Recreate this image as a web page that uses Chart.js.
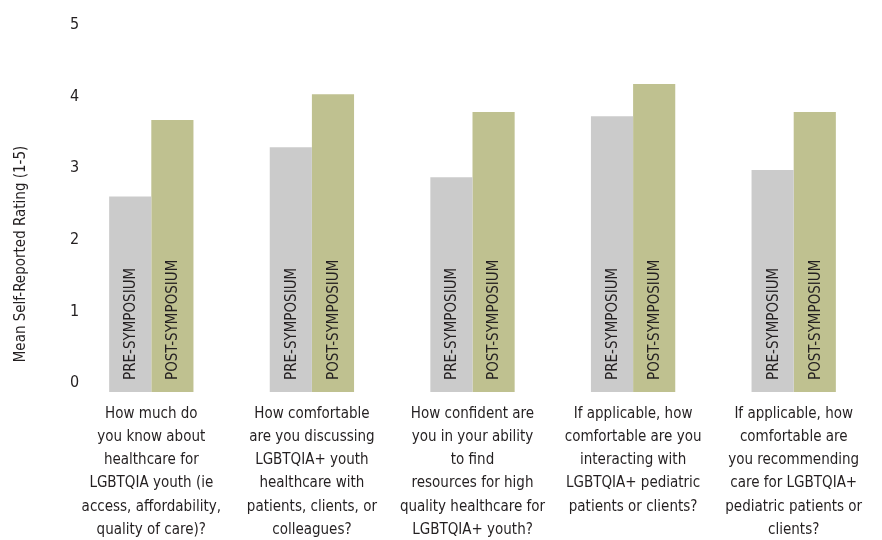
<!DOCTYPE html>
<html>
<head>
<meta charset="utf-8">
<script src="https://cdn.jsdelivr.net/npm/chart.js@4"></script>
<style>
  html, body { margin: 0; padding: 0; background: #fff; }
  #wrap { width: 882px; height: 540px; }
</style>
</head>
<body>
<div id="wrap"><canvas id="ratingChart" width="882" height="540"></canvas></div>
<script>
const questions = [
    ['How much do', 'you know about', 'healthcare for', 'LGBTQIA youth (ie', 'access, affordability,', 'quality of care)?'],
    ['How comfortable', 'are you discussing', 'LGBTQIA+ youth', 'healthcare with', 'patients, clients, or', 'colleagues?'],
    ['How confident are', 'you in your ability', 'to find', 'resources for high', 'quality healthcare for', 'LGBTQIA+ youth?'],
    ['If applicable, how', 'comfortable are you', 'interacting with', 'LGBTQIA+ pediatric', 'patients or clients?'],
    ['If applicable, how', 'comfortable are', 'you recommending', 'care for LGBTQIA+', 'pediatric patients or', 'clients?']
];
const preSymposium = [2.73, 3.42, 3.00, 3.85, 3.10];
const postSymposium = [3.80, 4.16, 3.91, 4.30, 3.91];
const yTicks = [0, 1, 2, 3, 4, 5];

const narrow = "'Liberation Sans Narrow', 'DejaVu Sans Condensed', sans-serif";
const ink = '#231f20';

// writes the series name up the inside of each bar
const barNames = {
    id: 'barNames',
    afterDatasetsDraw(chart) {
        const ctx = chart.ctx;
        ctx.save();
        ctx.font = '15px ' + narrow;
        ctx.fillStyle = ink;
        ctx.textAlign = 'left';
        ctx.textBaseline = 'middle';
        chart.data.datasets.forEach((ds, i) => {
            chart.getDatasetMeta(i).data.forEach(bar => {
                ctx.save();
                ctx.translate(bar.x, bar.base - 12);
                ctx.rotate(-Math.PI / 2);
                ctx.fillText(ds.label, 0, 1);
                ctx.restore();
            });
        });
        ctx.restore();
    }
};

// axis title sits a bit lower than the middle of the plot
const yTitle = {
    id: 'yTitle',
    afterDraw(chart) {
        const ctx = chart.ctx;
        ctx.save();
        ctx.font = '15px ' + narrow;
        ctx.fillStyle = ink;
        ctx.textAlign = 'center';
        ctx.textBaseline = 'middle';
        ctx.translate(21, 254);
        ctx.rotate(-Math.PI / 2);
        ctx.fillText('Mean Self-Reported Rating (1-5)', 0, 0);
        ctx.restore();
    }
};

new Chart(document.getElementById('ratingChart'), {
    type: 'bar',
    data: {
        labels: questions,
        datasets: [
            { label: 'PRE-SYMPOSIUM', data: preSymposium, backgroundColor: '#cbcbcb' },
            { label: 'POST-SYMPOSIUM', data: postSymposium, backgroundColor: '#bfc190' }
        ]
    },
    options: {
        responsive: false,
        animation: false,
        layout: { padding: { top: 34, right: 8, left: 0, bottom: 0 } },
        datasets: { bar: { barPercentage: 1, categoryPercentage: 0.525 } },
        plugins: { legend: { display: false }, tooltip: { enabled: false } },
        scales: {
            x: {
                grid: { display: false, drawTicks: false },
                border: { display: false },
                afterFit: s => { s.height = 148; },
                ticks: {
                    color: ink,
                    autoSkip: false,
                    maxRotation: 0,
                    padding: 10,
                    font: { family: narrow, size: 15, lineHeight: 1.55 }
                }
            },
            y: {
                min: 0,
                max: 5,
                grid: { display: false, drawTicks: false },
                border: { display: false },
                afterFit: s => { s.width = 71; },
                afterBuildTicks: s => { s.ticks = yTicks.map(v => ({ value: v })); },
                ticks: {
                    color: ink,
                    mirror: true,
                    padding: -1,
                    labelOffset: -9,
                    font: { family: narrow, size: 16 }
                }
            }
        }
    },
    plugins: [barNames, yTitle]
});
</script>
</body>
</html>
